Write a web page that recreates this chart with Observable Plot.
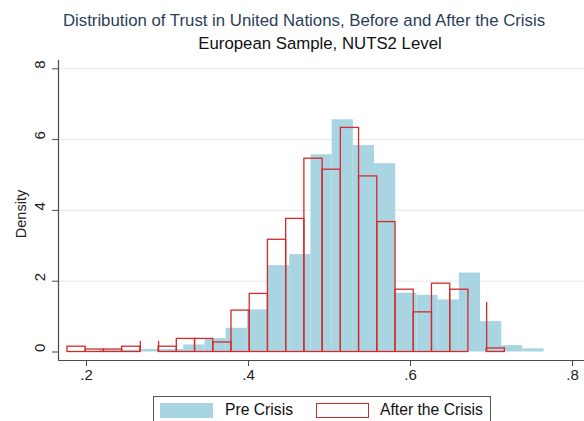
<!DOCTYPE html>
<html>
<head>
<meta charset="utf-8">
<script src="https://cdn.jsdelivr.net/npm/d3@7"></script>
<script src="https://cdn.jsdelivr.net/npm/@observablehq/plot@0.6"></script>
<style>
  body { margin: 0; background: #fff; font-family: "Liberation Sans", Arial, sans-serif; }
  #wrap { position: relative; width: 584px; height: 421px; overflow: hidden; background: #fff; }
  #chart { position: absolute; left: 0; top: 0; }
  .ttl { position: absolute; white-space: nowrap; transform: translateX(-50%); font-size: 16.8px; line-height: 18px; }
  #t1 { left: 304px; top: 12px; color: #2b3e58; }
  #t2 { left: 320px; top: 35px; color: #111; }
  #ylab { position: absolute; left: 21px; top: 214px; transform: translate(-50%, -50%) rotate(-90deg); font-size: 14.5px; color: #222; white-space: nowrap; }
  #legend { position: absolute; left: 153px; top: 396px; width: 338px; height: 40px; border: 1px solid #555; box-sizing: border-box; }
  .sw { position: absolute; top: 6px; width: 53px; height: 15px; box-sizing: border-box; }
  .lt { position: absolute; top: 4px; font-size: 15.7px; line-height: 18px; color: #111; white-space: nowrap; }
</style>
</head>
<body>
<div id="wrap">
  <div id="chart"></div>
  <div id="t1" class="ttl">Distribution of Trust in United Nations, Before and After the Crisis</div>
  <div id="t2" class="ttl">European Sample, NUTS2 Level</div>
  <div id="ylab">Density</div>
  <div id="legend">
    <div class="sw" style="left:6px;background:#a9d5e3;"></div>
    <div class="lt" style="left:71px;">Pre Crisis</div>
    <div class="sw" style="left:162px;border:1.3px solid #d42a2a;background:#fff;"></div>
    <div class="lt" style="left:226px;">After the Crisis</div>
  </div>
</div>
<script>
// ---- data ----
const preBinStart = 0.2154;
const preBinWidth = 0.02617;
const preDensity = [0.05, 0.05, 0.07, 0.07, 0.2, 0.38, 0.67, 1.19, 2.44, 2.75,
                    5.57, 6.56, 5.83, 5.32, 1.66, 1.6, 1.47, 2.23, 0.86, 0.18, 0.09];

const postBinStart = 0.1765;
const postBinWidth = 0.0225;
const postDensity = [0.15, 0.07, 0.07, 0.15, 0, 0.15, 0.37, 0.37, 0.27, 1.17,
                     1.64, 3.17, 3.76, 5.46, 5.15, 6.33, 4.96, 3.67, 1.76, 1.12,
                     1.93, 1.76, 0, 0.1];

// stray bar edges visible in the post-crisis outline
const postSpikeX = [0.2665, 0.289, 0.694];
const postSpikeY = [0.3, 0.3, 1.4];

const xTicks = [0.2, 0.4, 0.6, 0.8];
const xTickLabels = [".2", ".4", ".6", ".8"];
const yTicks = [0, 2, 4, 6, 8];
const yGrid = [2, 4, 6, 8];

// ---- build tables ----
const pre = preDensity.map((d, i) => ({x1: preBinStart + i * preBinWidth, x2: preBinStart + (i + 1) * preBinWidth, y: d}));
const post = postDensity.map((d, i) => ({x1: postBinStart + i * postBinWidth, x2: postBinStart + (i + 1) * postBinWidth, y: d}));
const spikes = postSpikeX.map((x, i) => ({x, y: postSpikeY[i]}));

const xDomain = [0.2 - 28 / 810, 0.8 + 12 / 810];
const yDomain = [-0.24, 8.234];
const axisColor = "#4a4a4a";
const red = "#d42a2a";

const chart = Plot.plot({
  width: 584,
  height: 421,
  marginLeft: 58,
  marginRight: 0,
  marginTop: 60,
  marginBottom: 61,
  x: {domain: xDomain},
  y: {domain: yDomain},
  style: {fontFamily: "Liberation Sans, Arial, sans-serif", fontSize: "15px", color: "#222", background: "transparent"},
  marks: [
    Plot.gridY(yGrid, {stroke: "#e4e9ec", strokeOpacity: 1, strokeWidth: 1}),
    Plot.rect(pre, {x1: "x1", x2: "x2", y1: () => 0, y2: "y", fill: "#a9d5e3"}),
    Plot.rect(post, {x1: "x1", x2: "x2", y1: () => 0, y2: "y", fill: "none", stroke: red, strokeWidth: 1.3}),
    Plot.ruleX(spikes, {x: "x", y1: () => 0, y2: "y", stroke: red, strokeWidth: 1.3}),
    Plot.ruleY([yDomain[0]], {stroke: axisColor, strokeWidth: 1.2}),
    Plot.ruleX([xDomain[0]], {stroke: axisColor, strokeWidth: 1.2}),
    Plot.axisX({ticks: xTicks, tickSize: 6, tickPadding: 3, tickFormat: (d) => xTickLabels[xTicks.indexOf(d)], stroke: axisColor, label: null, fontSize: 15}),
    Plot.axisY({ticks: yTicks, tickSize: 6, tickFormat: () => "", stroke: axisColor, label: null}),
    Plot.text(yTicks, {y: d => d, frameAnchor: "left", dx: -18, rotate: -90, text: d => String(d), fontSize: 15, fill: "#222"})
  ]
});
document.getElementById("chart").appendChild(chart);
</script>
</body>
</html>
